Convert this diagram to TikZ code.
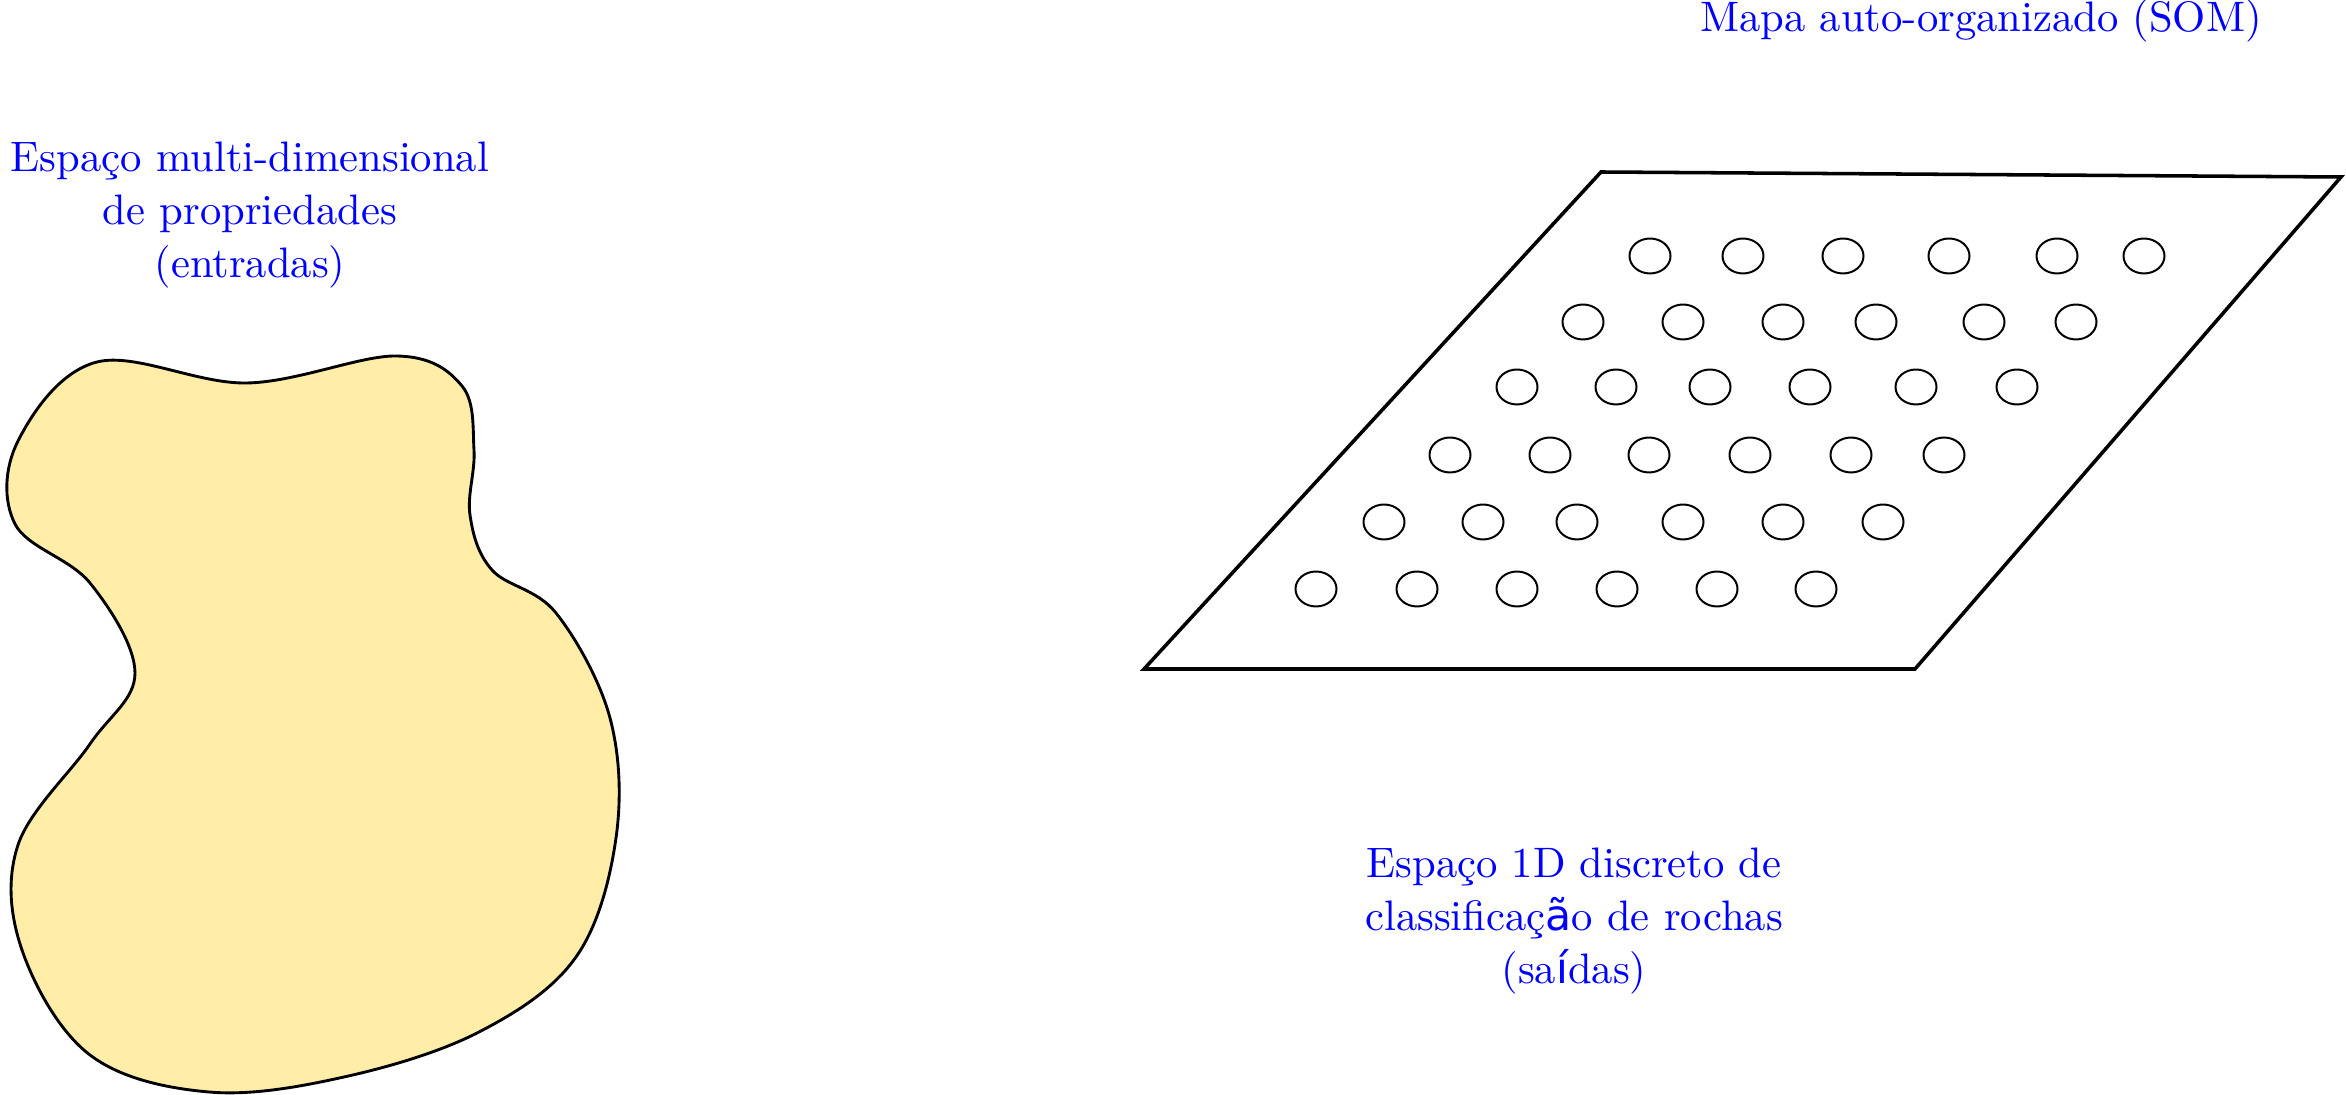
\documentclass[tikz,border=0pt]{standalone}
\usepackage{fontspec}
\newfontfamily\fallbackfont{DejaVu Sans}
\definecolor{blobfill}{RGB}{255,237,168}

\begin{document}
\begin{tikzpicture}[
      x=0.007955cm, y=-0.007955cm,
      caption/.style={text=blue, align=center, inner sep=0pt, font=\fontsize{9.64}{12}\selectfont},
      grid/.style={draw, line width=0.8pt, line join=miter},
      neuron/.style={draw, line width=0.45pt},
      blob/.style={draw, fill=blobfill, line width=0.65pt}
    ]
    \useasboundingbox (0,0) rectangle (2346,1095);

    % espaco de entrada
    \node[caption] (entradas) at (250,215) {Espaço multi-dimensional\\de propriedades\\(entradas)};
    \draw[blob] plot[smooth cycle, tension=0.6] coordinates {
      (97,362) (247,383) (396,356) (462,386) (474,450) (470,515) (492,570) (556,613)
      (610,718) (616,838) (576,957) (479,1032) (344,1077) (209,1092)
      (90,1055) (22,950) (18,845) (90,744) (135,673) (90,583) (15,524) (18,441)};

    % mapa
    \node[caption] (som) at (1981,21) {Mapa auto-organizado (SOM)};
    \draw[grid] (1601,172) -- (2341,177) -- (1915,669) -- (1144,669) -- cycle;
    \foreach \r/\xs in {256/{1650,1743,1843,1949,2057,2144},
                        322/{1583,1683,1783,1876,1984,2076},
                        387/{1517,1616,1710,1810,1916,2017},
                        455/{1450,1550,1649,1750,1851,1944},
                        522/{1384,1483,1577,1683,1783,1883},
                        589/{1316,1417,1517,1617,1717,1816}}
      \foreach \x in \xs
        \draw[neuron] (\x,\r) ellipse [x radius=0.163cm, y radius=0.139cm];

    \node[caption] (saidas) at (1574,921) {Espaço 1D discreto de\\classificaç{\fallbackfont ã}o de rochas\\(sa{\fallbackfont í}das)};
  \end{tikzpicture}
\end{document}
